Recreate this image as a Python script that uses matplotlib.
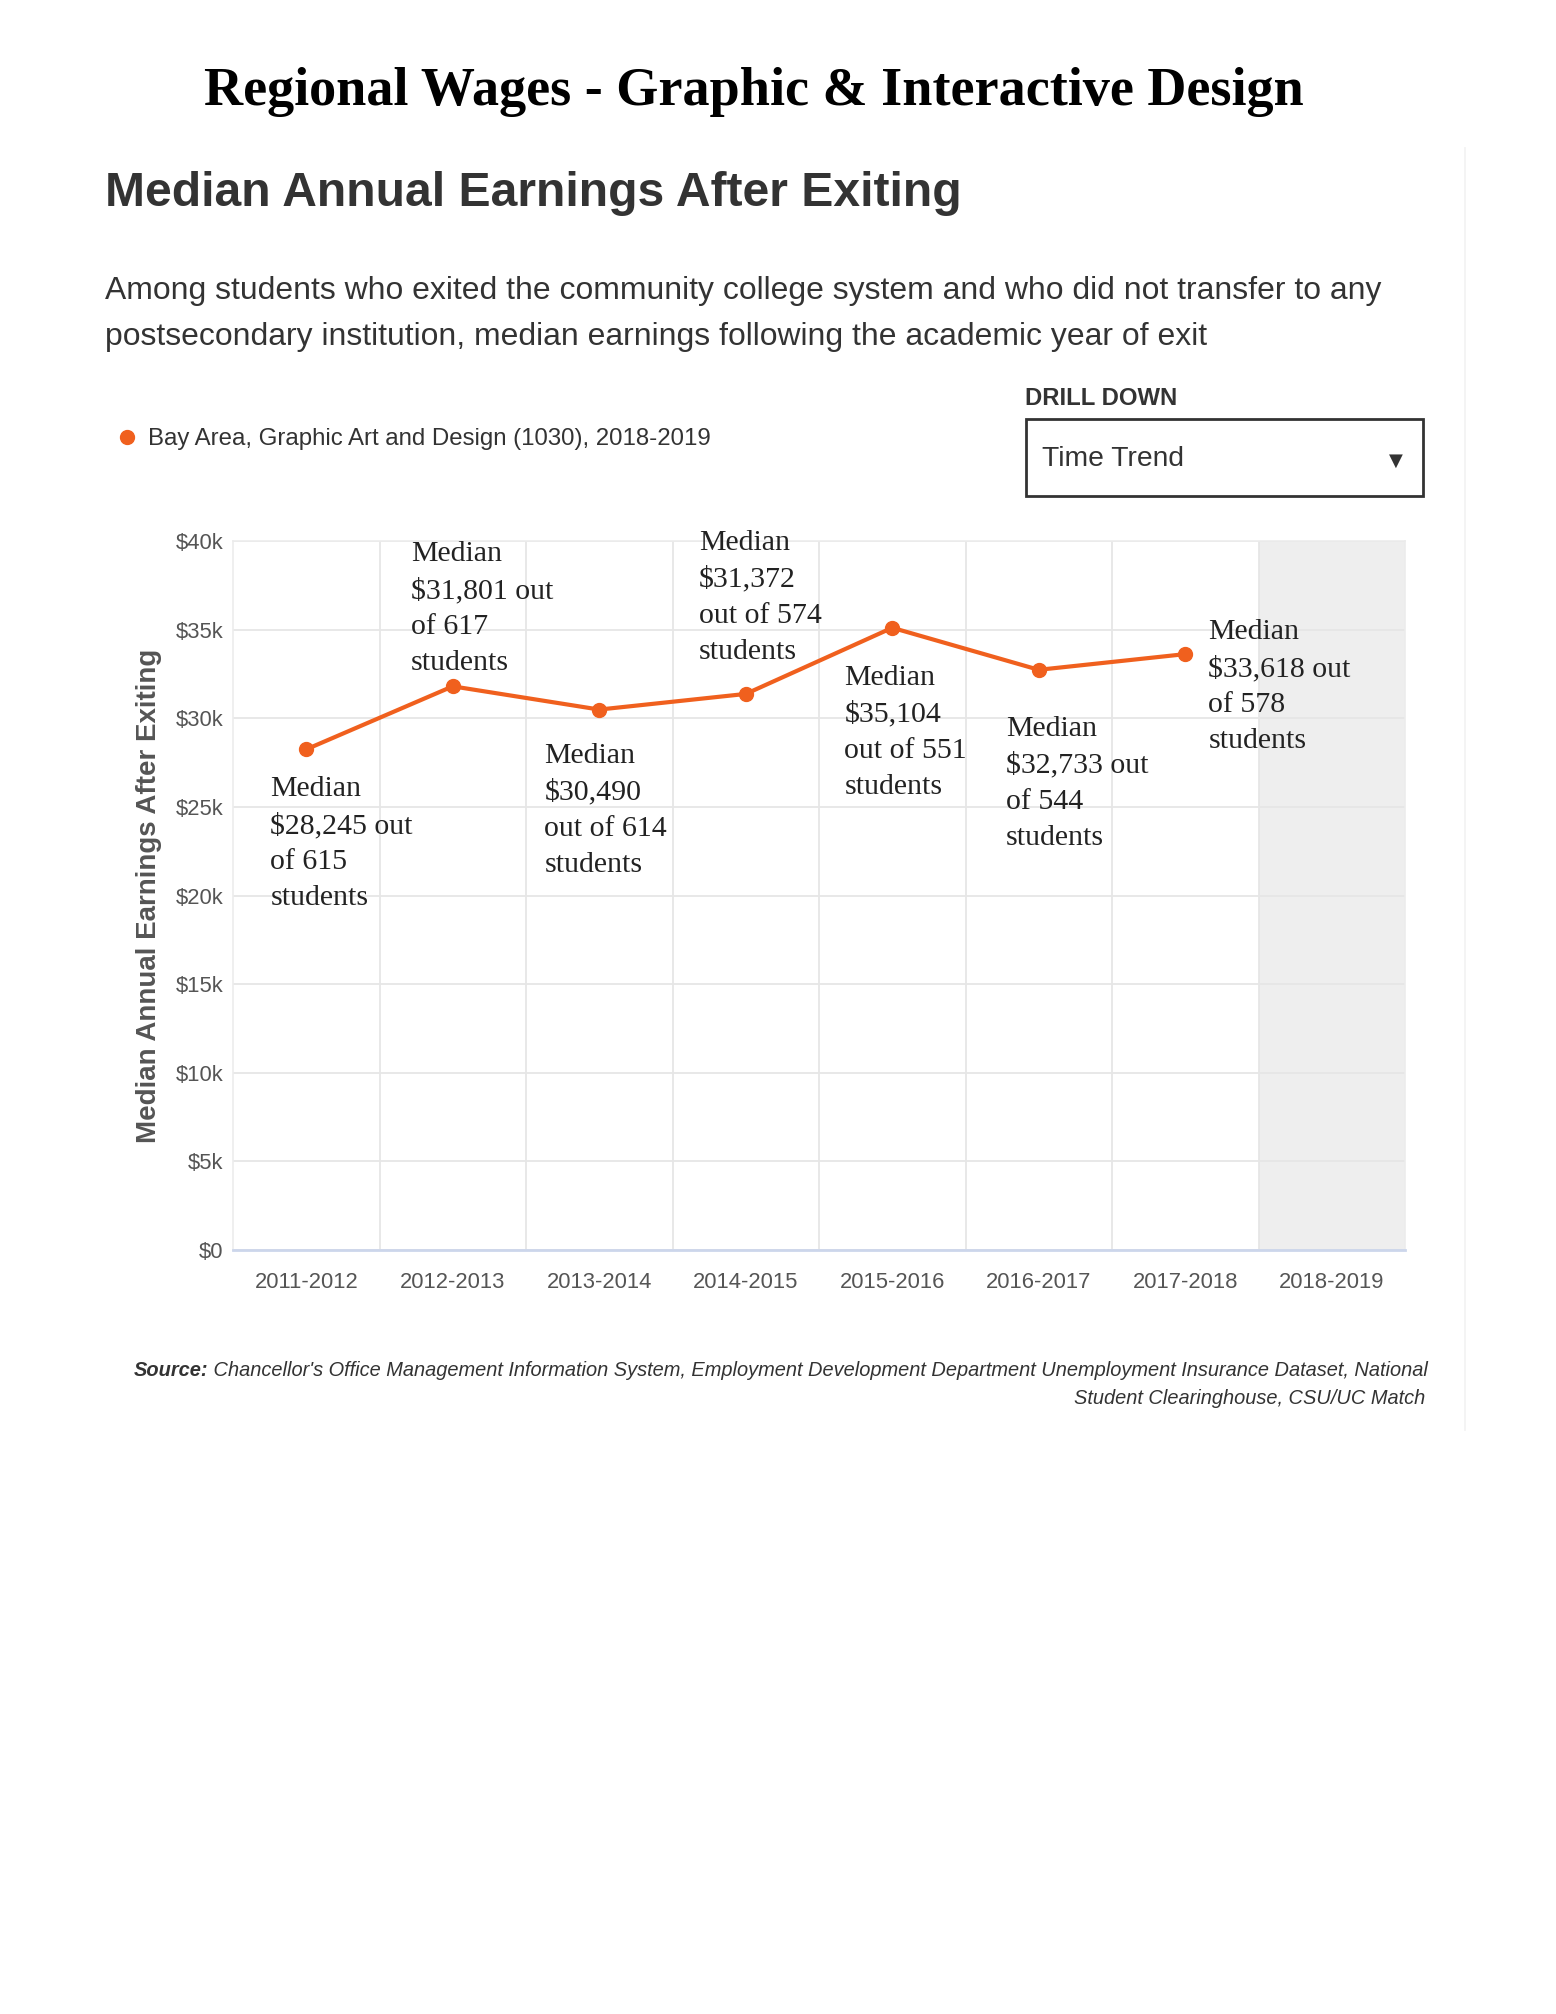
import matplotlib
matplotlib.use("Agg")
import matplotlib.pyplot as plt
from matplotlib.lines import Line2D
from matplotlib.patches import Rectangle
from matplotlib.ticker import FuncFormatter

# ---------- data ----------
years = ["2011-2012", "2012-2013", "2013-2014", "2014-2015",
         "2015-2016", "2016-2017", "2017-2018", "2018-2019"]
medians = [28245, 31801, 30490, 31372, 35104, 32733, 33618]
students = [615, 617, 614, 574, 551, 544, 578]
label_lines = [
    ["Median", "$28,245 out", "of 615", "students"],
    ["Median", "$31,801 out", "of 617", "students"],
    ["Median", "$30,490", "out of 614", "students"],
    ["Median", "$31,372", "out of 574", "students"],
    ["Median", "$35,104", "out of 551", "students"],
    ["Median", "$32,733 out", "of 544", "students"],
    ["Median", "$33,618 out", "of 578", "students"],
]
y_ticks = [0, 5000, 10000, 15000, 20000, 25000, 30000, 35000, 40000]

# label offsets from each point, in pixels (dx to left edge, dy to top)
label_offsets = [(-36, -27), (-42, 145), (-55, -33), (-47, 164),
                 (-48, -37), (-33, -46), (23, 35)]

ORANGE = "#F0601E"
DARK = "#333333"
W, H = 1556, 2014

fig = plt.figure(figsize=(W / 100, H / 100), dpi=100)
fig.patch.set_facecolor("white")


def fx(px):
    return px / W


def fy(py):
    return 1 - py / H


SANS = "Liberation Sans"
SERIF = "Liberation Serif"

# ---------- header ----------
fig.text(fx(754), fy(92), "Regional Wages - Graphic & Interactive Design",
         family=SERIF, weight="bold", size=39, ha="center", va="center",
         color="black")
fig.text(fx(105), fy(193), "Median Annual Earnings After Exiting",
         family=SANS, weight="bold", size=34.6, ha="left", va="center",
         color=DARK)
fig.text(fx(105), fy(291),
         "Among students who exited the community college system and who did not transfer to any",
         family=SANS, size=22.95, ha="left", va="center", color=DARK)
fig.text(fx(105), fy(337),
         "postsecondary institution, median earnings following the academic year of exit",
         family=SANS, size=22.95, ha="left", va="center", color=DARK)

# drill down box
fig.text(fx(1025), fy(398), "DRILL DOWN", family=SANS, weight="bold",
         size=17.2, ha="left", va="center", color=DARK)
fig.patches.append(Rectangle((fx(1026), fy(496)), fx(1423) - fx(1026),
                             fy(419) - fy(496), transform=fig.transFigure,
                             facecolor="white", edgecolor=DARK, lw=2))
fig.text(fx(1042), fy(459), "Time Trend", family=SANS, size=20.3,
         ha="left", va="center", color=DARK)
fig.text(fx(1396), fy(461), "\u25BC", family="DejaVu Sans", size=13,
         ha="center", va="center", color=DARK)

# page edge line
fig.add_artist(Line2D([fx(1465), fx(1465)], [fy(148), fy(1430)],
                      transform=fig.transFigure, color="#f2f2f2", lw=1.2))

# ---------- chart ----------
ax = fig.add_axes([fx(233), fy(1250), fx(1405) - fx(233), fy(541) - fy(1250)])
x = list(range(len(medians)))
ax.axvspan(len(years) - 1.5, len(years) - 0.5, color="#eeeeee", zorder=0)
ax.plot(x, medians, color=ORANGE, lw=3, marker="o", ms=10, zorder=3,
        label="Bay Area, Graphic Art and Design (1030), 2018-2019")

ax.set_xlim(-0.5, len(years) - 0.5)
ax.set_ylim(0, 40000)
ax.set_yticks(y_ticks)
ax.yaxis.set_major_formatter(FuncFormatter(
    lambda v, p: "$0" if v == 0 else "${:d}k".format(int(v / 1000))))
ax.set_xticks(x + [len(years) - 1])
ax.set_xticklabels(years)
ax.set_xticks([i + 0.5 for i in range(len(years) - 1)], minor=True)
ax.grid(True, axis="y", which="major", color="#e6e6e6", lw=1.3)
ax.grid(True, axis="x", which="minor", color="#e6e6e6", lw=1.3)
ax.set_axisbelow(True)
ax.tick_params(axis="both", which="both", length=0)
ax.tick_params(axis="x", pad=16, labelsize=15.8, labelcolor="#555555")
ax.tick_params(axis="y", pad=7, labelsize=15.8, labelcolor="#555555")
for lab in ax.get_xticklabels() + ax.get_yticklabels():
    lab.set_family(SANS)
for side in ["top", "right", "left"]:
    ax.spines[side].set_color("#ececec")
    ax.spines[side].set_linewidth(1.2)
ax.spines["bottom"].set_color("#ccd6eb")
ax.spines["bottom"].set_linewidth(2)
ax.set_ylabel("Median Annual Earnings After Exiting", family=SANS,
              weight="bold", size=20, color="#555555", labelpad=10)

for i, lines in enumerate(label_lines):
    dx, dy = label_offsets[i]
    ax.annotate("\n".join(lines), xy=(x[i], medians[i]), xycoords="data",
                xytext=(dx, dy), textcoords="offset pixels",
                ha="left", va="top", family=SERIF, size=21.5,
                linespacing=1.5, color="#222222", zorder=4)

# legend
fig.legend(handles=[Line2D([], [], color=ORANGE, marker="o", ms=10, ls="none")],
           labels=["Bay Area, Graphic Art and Design (1030), 2018-2019"],
           loc="center left", bbox_to_anchor=(fx(93), fy(439)),
           frameon=False, handletextpad=0.4, handlelength=1.0,
           prop={"family": SANS, "size": 17.3}, labelcolor=DARK)

# ---------- source ----------
src = fig.text(fx(134), fy(1370), "Source:", family=SANS, weight="bold",
               style="italic", size=14.37, ha="left", va="center", color=DARK)
ax.annotate(" Chancellor's Office Management Information System, Employment Development Department Unemployment Insurance Dataset, National",
            xy=(1, 0.5), xycoords=src, xytext=(0, 0), textcoords="offset points",
            ha="left", va="center", family=SANS, style="italic", size=14.37,
            color=DARK, annotation_clip=False)
fig.text(fx(1425), fy(1398), "Student Clearinghouse, CSU/UC Match",
         family=SANS, style="italic", size=14.37, ha="right", va="center",
         color=DARK)

fig.savefig("out.png", dpi=100, facecolor="white")
